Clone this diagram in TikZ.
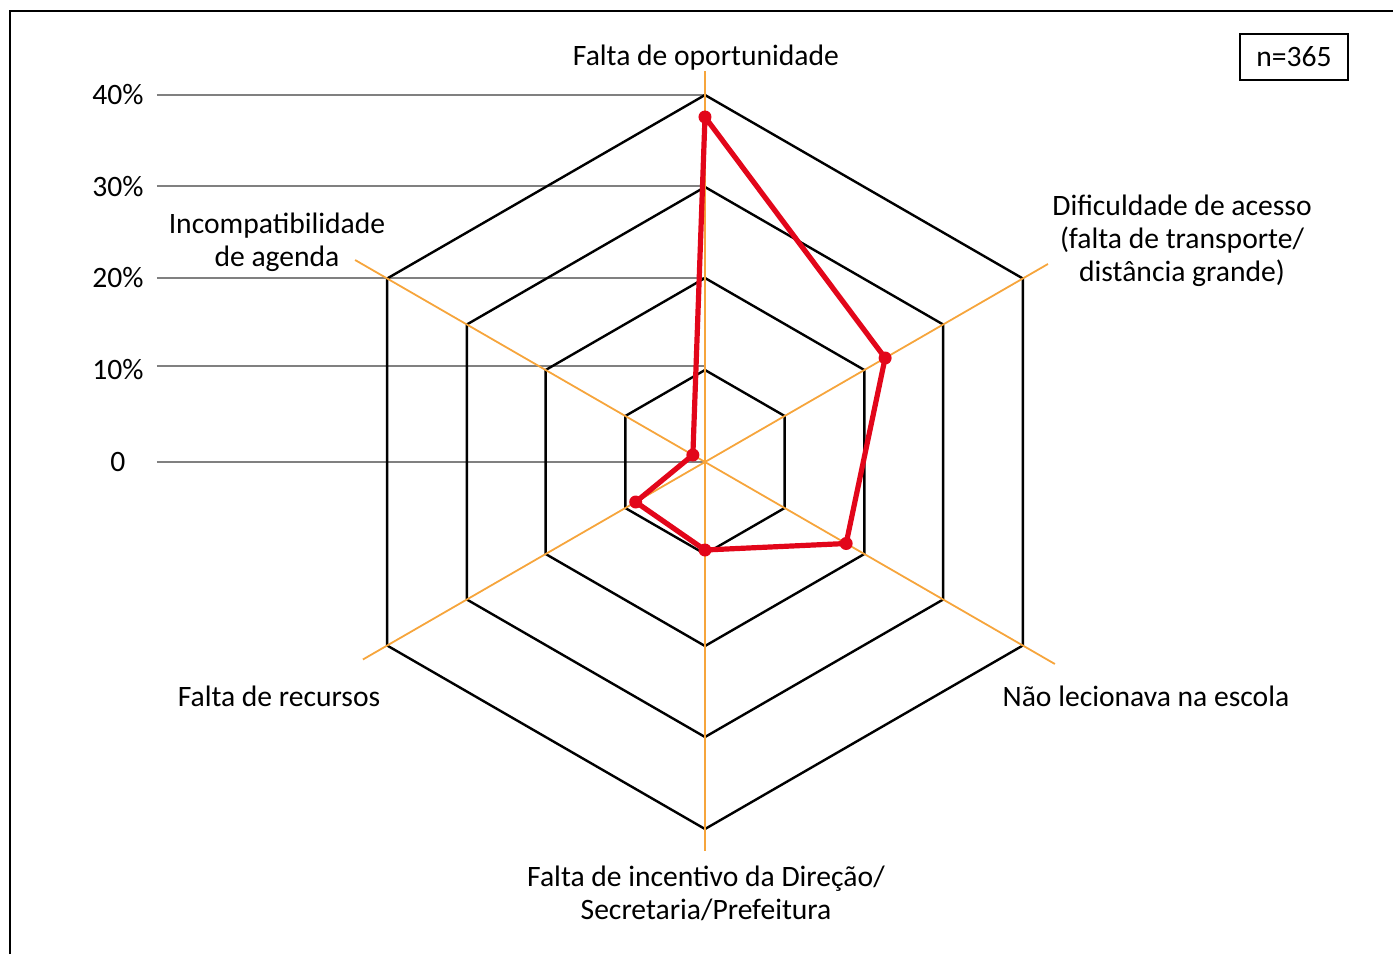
\documentclass[tikz,border=0pt]{standalone}
\usepackage{fontspec}
\setmainfont{Carlito}
\usetikzlibrary{positioning}
\definecolor{axisorange}{RGB}{246,165,60}
\definecolor{datared}{RGB}{226,6,26}
\definecolor{gridgray}{RGB}{128,128,128}
\tikzset{
  ring/.style={draw=black, line width=1.2pt},
  spoke/.style={draw=axisorange, line width=0.9pt},
  levelline/.style={draw=gridgray, line width=1.4pt},
  lbl/.style={align=center, inner sep=0pt, font=\fontsize{14.8pt}{16.5pt}\selectfont},
  datapt/.style={fill=datared},
}
\begin{document}
\begin{tikzpicture}[x=0.5pt,y=0.5pt]
\useasboundingbox (-705,-492) rectangle (688,462);
% frame
\draw[line width=1.3pt] (-695,-492) -- (-695,451) -- (688,451);

% scale lines
\node[lbl] (l40) at (-587,367) {40\%};
\node[lbl] (l30) at (-587,275) {30\%};
\node[lbl] (l20) at (-587,184) {20\%};
\node[lbl] (l10) at (-587,92) {10\%};
\node[lbl] (l0) at (-587,0) {0};
\draw[levelline] (-548,367) -- (0,367);
\draw[levelline] (-548,276) -- (0,276);
\draw[levelline] (-548,184) -- (0,184);
\draw[levelline] (-548,96) -- (0,96);
\draw[levelline] (-548,0) -- (0,0);

% hexagons
\draw[ring] (90:92) -- (30:92) -- (-30:92) -- (-90:92) -- (-150:92) -- (150:92) -- cycle;
\draw[ring] (90:184) -- (30:184) -- (-30:184) -- (-90:184) -- (-150:184) -- (150:184) -- cycle;
\draw[ring] (90:275) -- (30:275) -- (-30:275) -- (-90:275) -- (-150:275) -- (150:275) -- cycle;
\draw[ring] (90:367) -- (30:367) -- (-30:367) -- (-90:367) -- (-150:367) -- (150:367) -- cycle;

% axes
\coordinate (c) at (0,0);
\coordinate (a1) at (90:391);
\coordinate (a2) at (30:396);
\coordinate (a3) at (-30:404);
\coordinate (a4) at (-90:389);
\coordinate (a5) at (-150:395);
\coordinate (a6) at (150:404);
\draw[spoke] (c) -- (a1);
\draw[spoke] (c) -- (a2);
\draw[spoke] (c) -- (a3);
\draw[spoke] (c) -- (a4);
\draw[spoke] (c) -- (a5);
\draw[spoke] (c) -- (a6);

% data
\coordinate (d1) at (90:345);
\coordinate (d2) at (30:208);
\coordinate (d3) at (-30:163);
\coordinate (d4) at (-90:88);
\coordinate (d5) at (-150:80);
\coordinate (d6) at (150:14);
\draw[datared, line width=2.6pt, line join=round] (d1) -- (d2) -- (d3) -- (d4) -- (d5) -- (d6) -- cycle;
\fill[datapt] (d1) circle (6.5) (d2) circle (6.5) (d3) circle (6.5) (d4) circle (6.5) (d5) circle (6.5) (d6) circle (6.5);

% labels
\node[lbl] (oport) at (1,404) {Falta de oportunidade};
\node[lbl] (acesso) at (477,221) {Dificuldade de acesso\\(falta de transporte/\\distância grande)};
\node[lbl] (escola) at (441,-234) {Não lecionava na escola};
\node[lbl] (incent) at (1,-431) {Falta de incentivo da Direção/\\Secretaria/Prefeitura};
\node[lbl] (recurs) at (-426,-234) {Falta de recursos};
\node[lbl] (agenda) at (-428,220) {Incompatibilidade\\de agenda};
\node[lbl, draw, line width=1.1pt, minimum width=54pt, minimum height=23pt] (nbox) at (589,405) {n=365};
\end{tikzpicture}
\end{document}
